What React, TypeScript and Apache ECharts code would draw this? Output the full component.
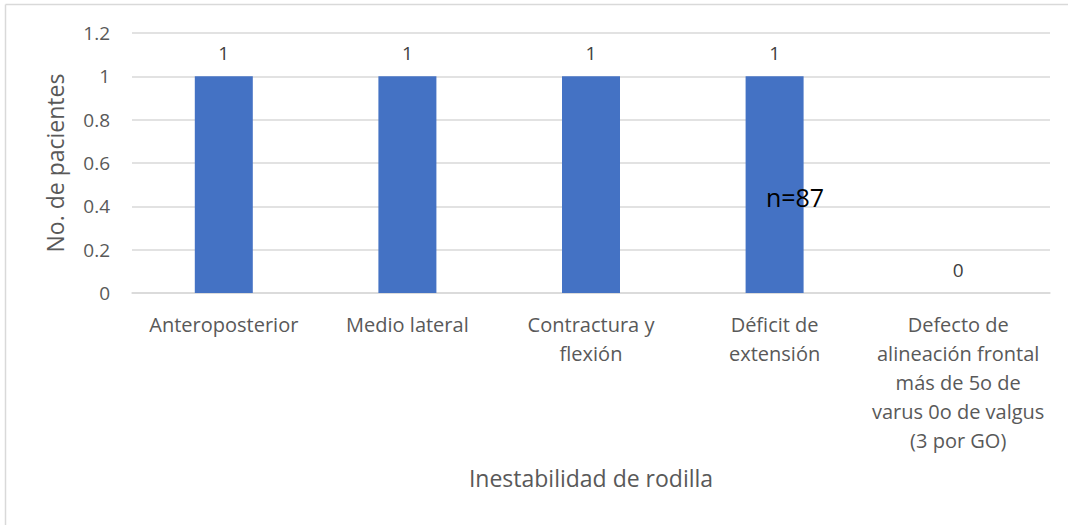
import React, { useEffect, useRef } from "react";
import * as echarts from "echarts";

// Tipos de inestabilidad de rodilla y número de pacientes
const categories = [
  "Anteroposterior",
  "Medio lateral",
  "Contractura y\nflexión",
  "Déficit de\nextensión",
  "Defecto de\nalineación frontal\nmás de 5o de\nvarus 0o de valgus\n(3 por GO)",
];
const patients = [1, 1, 1, 1, 0];
const yTicks = [0, 0.2, 0.4, 0.6, 0.8, 1, 1.2];
const sampleNote = "n=87";

const FONT = "'Open Sans', 'Noto Sans', sans-serif";
const GREY = "#595959";

export default function App() {
  const ref = useRef<HTMLDivElement>(null);

  useEffect(() => {
    if (!ref.current) return;
    const chart = echarts.init(ref.current, null, { renderer: "svg" });
    chart.setOption({
      animation: false,
      backgroundColor: "#ffffff",
      textStyle: { fontFamily: FONT },
      grid: { left: 132, right: 18, top: 33, bottom: 232, containLabel: false },
      xAxis: {
        type: "category",
        data: categories,
        name: "Inestabilidad de rodilla",
        nameLocation: "middle",
        nameGap: 173,
        nameTextStyle: { fontSize: 23, color: GREY, fontFamily: FONT },
        axisLine: { lineStyle: { color: "#D9D9D9", width: 1.5 } },
        axisTick: { show: false },
        axisLabel: {
          interval: 0,
          fontSize: 20,
          lineHeight: 29,
          color: GREY,
          margin: 17,
          fontFamily: FONT,
          verticalAlign: "top",
        },
      },
      yAxis: {
        type: "value",
        min: yTicks[0],
        max: yTicks[yTicks.length - 1],
        interval: 0.2,
        name: "No. de pacientes",
        nameLocation: "middle",
        nameGap: 66,
        nameRotate: 90,
        nameTextStyle: { fontSize: 23, color: GREY, fontFamily: FONT },
        axisLine: { show: false },
        axisTick: { show: false },
        splitLine: { lineStyle: { color: "#D9D9D9", width: 1.5 } },
        axisLabel: {
          fontSize: 19,
          color: GREY,
          margin: 22,
          fontFamily: FONT,
          formatter: (v: number) => String(Math.round(v * 10) / 10),
        },
      },
      series: [
        {
          type: "bar",
          data: patients,
          barWidth: 58,
          itemStyle: { color: "#4472C4" },
          label: {
            show: true,
            position: "top",
            distance: 14,
            fontSize: 19,
            color: "#404040",
            fontFamily: FONT,
          },
        },
      ],
      graphic: [
        {
          type: "line",
          z: 100,
          shape: { x1: 5.5, y1: 4.5, x2: 1068, y2: 4.5 },
          style: { stroke: "#D9D9D9", lineWidth: 1.5 },
        },
        {
          type: "line",
          z: 100,
          shape: { x1: 5.5, y1: 4.5, x2: 5.5, y2: 525 },
          style: { stroke: "#D9D9D9", lineWidth: 1.5 },
        },
        {
          type: "text",
          z: 100,
          x: 795,
          y: 197,
          style: {
            text: sampleNote,
            fontSize: 25,
            fill: "#000000",
            fontFamily: FONT,
            align: "center",
            verticalAlign: "middle",
          },
        },
      ],
    });
    return () => chart.dispose();
  }, []);

  return (
    <div
      ref={ref}
      style={{ position: "fixed", left: 0, top: 0, width: 1068, height: 525 }}
    />
  );
}
